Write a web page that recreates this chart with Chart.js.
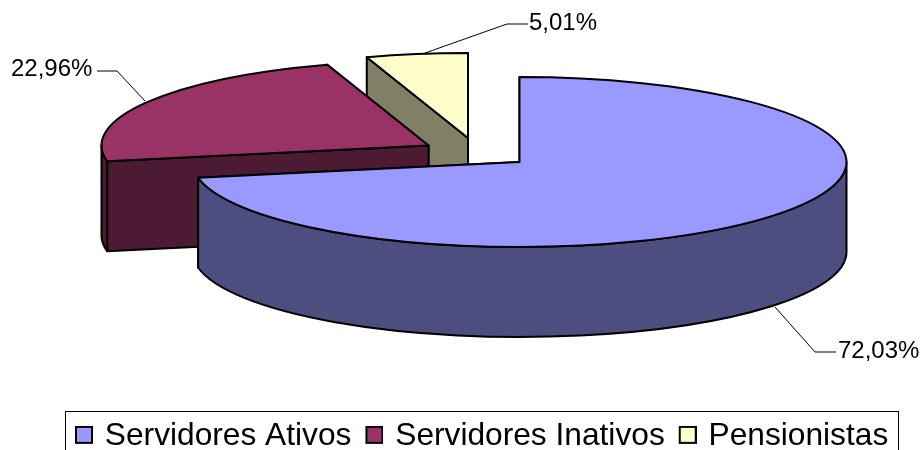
<!DOCTYPE html>
<html>
<head>
<meta charset="utf-8">
<style>html,body{margin:0;padding:0;background:#fff;overflow:hidden}canvas{display:block}</style>
<script src="https://cdn.jsdelivr.net/npm/chart.js@4"></script>
</head>
<body>
<canvas id="c" width="921" height="450"></canvas>
<script>
const categories = ['Servidores Ativos', 'Servidores Inativos', 'Pensionistas'];
const shares = [72.03, 22.96, 5.01];
const topColors = ['#9999FF', '#993366', '#FFFFCC'];
const wallColors = ['#4D4D80', '#4D1A33', '#808066'];

// presentation geometry
const FONT = '"Liberation Sans", Arial, sans-serif';
const RADIUS = 327, SQUASH = 85 / 327, DEPTH = 90;
const CENTER = { x: 519.5, y: 162 };
const explode = [[0, 0], [-91, -16.5], [-51.5, -24]];
const leaders = [
  [[775, 307], [815, 352], [836, 352]],
  [[145, 101], [117, 71], [97, 71]],
  [[425, 53], [507, 24], [528, 24]]
];
const labelPos = [[838, 351], [11, 69], [529, 23]];
const FRAME = { l: 65.5, r: 898.5, t: 411.5, b: 470 };

function swatch(color) {
  const cv = document.createElement('canvas');
  cv.width = 22; cv.height = 20;
  const g = cv.getContext('2d');
  g.fillStyle = color; g.strokeStyle = '#000'; g.lineWidth = 2;
  g.fillRect(5, 1, 16, 16); g.strokeRect(5, 1, 16, 16);
  return cv;
}

function tracePoint(ctx, o, a, depth) {
  return [o.x + Math.cos(a) * RADIUS, o.y + Math.sin(a) * RADIUS * SQUASH + depth];
}

const pie3d = {
  id: 'pie3d',
  afterLayout(chart) {
    const lg = chart.legend;
    lg.left = 61; lg.right = 921; lg.top = 406;
  },
  beforeDatasetsDraw(chart) {
    const ctx = chart.ctx;
    const arcs = chart.getDatasetMeta(0).data;
    ctx.save();
    ctx.lineJoin = 'round';
    ctx.lineWidth = 2;
    ctx.strokeStyle = '#000';
    for (let i = arcs.length - 1; i >= 0; i--) {
      const arc = arcs[i];
      const o = { x: CENTER.x + explode[i][0], y: CENTER.y + explode[i][1] };
      const sa = arc.startAngle, ea = arc.endAngle;
      ctx.fillStyle = wallColors[i];
      // radial walls, far one first
      for (const a of [ea, sa]) {
        const p = tracePoint(ctx, o, a, 0);
        ctx.beginPath();
        ctx.moveTo(o.x, o.y);
        ctx.lineTo(p[0], p[1]);
        ctx.lineTo(p[0], p[1] + DEPTH);
        ctx.lineTo(o.x, o.y + DEPTH);
        ctx.closePath();
        ctx.fill(); ctx.stroke();
      }
      // curved outer wall: the part of the rim facing the viewer
      const a0 = Math.max(sa, 0), a1 = Math.min(ea, Math.PI);
      if (a1 > a0) {
        ctx.beginPath();
        ctx.ellipse(o.x, o.y, RADIUS, RADIUS * SQUASH, 0, a0, a1);
        ctx.ellipse(o.x, o.y + DEPTH, RADIUS, RADIUS * SQUASH, 0, a1, a0, true);
        ctx.closePath();
        ctx.fill(); ctx.stroke();
      }
      // top face: the library's own arc element, squashed
      ctx.save();
      ctx.translate(o.x, o.y);
      ctx.scale(1, SQUASH);
      ctx.translate(-arc.x, -arc.y);
      arc.draw(ctx);
      ctx.restore();
      ctx.beginPath();
      ctx.moveTo(o.x, o.y);
      ctx.ellipse(o.x, o.y, RADIUS, RADIUS * SQUASH, 0, sa, ea);
      ctx.closePath();
      ctx.stroke();
    }
    ctx.restore();
    return false;
  },
  afterDraw(chart) {
    const ctx = chart.ctx;
    ctx.save();
    ctx.strokeStyle = '#000';
    ctx.lineWidth = 1;
    leaders.forEach(pts => {
      ctx.beginPath();
      pts.forEach((p, k) => k ? ctx.lineTo(p[0], p[1]) : ctx.moveTo(p[0], p[1]));
      ctx.stroke();
    });
    ctx.fillStyle = '#000';
    ctx.font = '24px ' + FONT;
    ctx.textAlign = 'left';
    ctx.textBaseline = 'middle';
    shares.forEach((v, i) => {
      ctx.fillText(v.toFixed(2).replace('.', ',') + '%', labelPos[i][0], labelPos[i][1]);
    });
    ctx.strokeStyle = '#000';
    ctx.lineWidth = 1;
    ctx.strokeRect(FRAME.l, FRAME.t, FRAME.r - FRAME.l, FRAME.b - FRAME.t);
    ctx.restore();
  }
};

new Chart(document.getElementById('c'), {
  type: 'pie',
  data: {
    labels: categories,
    datasets: [{
      data: shares,
      backgroundColor: topColors,
      borderWidth: 0,
      radius: RADIUS
    }]
  },
  options: {
    responsive: false,
    animation: false,
    plugins: {
      tooltip: { enabled: false },
      legend: {
        position: 'bottom',
        align: 'start',
        labels: {
          usePointStyle: true,
          boxWidth: 14,
          padding: 14,
          color: '#000',
          font: { family: FONT, size: 31.7 },
          generateLabels: () => categories.map((t, i) => ({
            text: t, index: i, fontColor: '#000', hidden: false,
            pointStyle: swatch(topColors[i]), lineWidth: 0
          }))
        }
      }
    }
  },
  plugins: [pie3d]
});
</script>
</body>
</html>
